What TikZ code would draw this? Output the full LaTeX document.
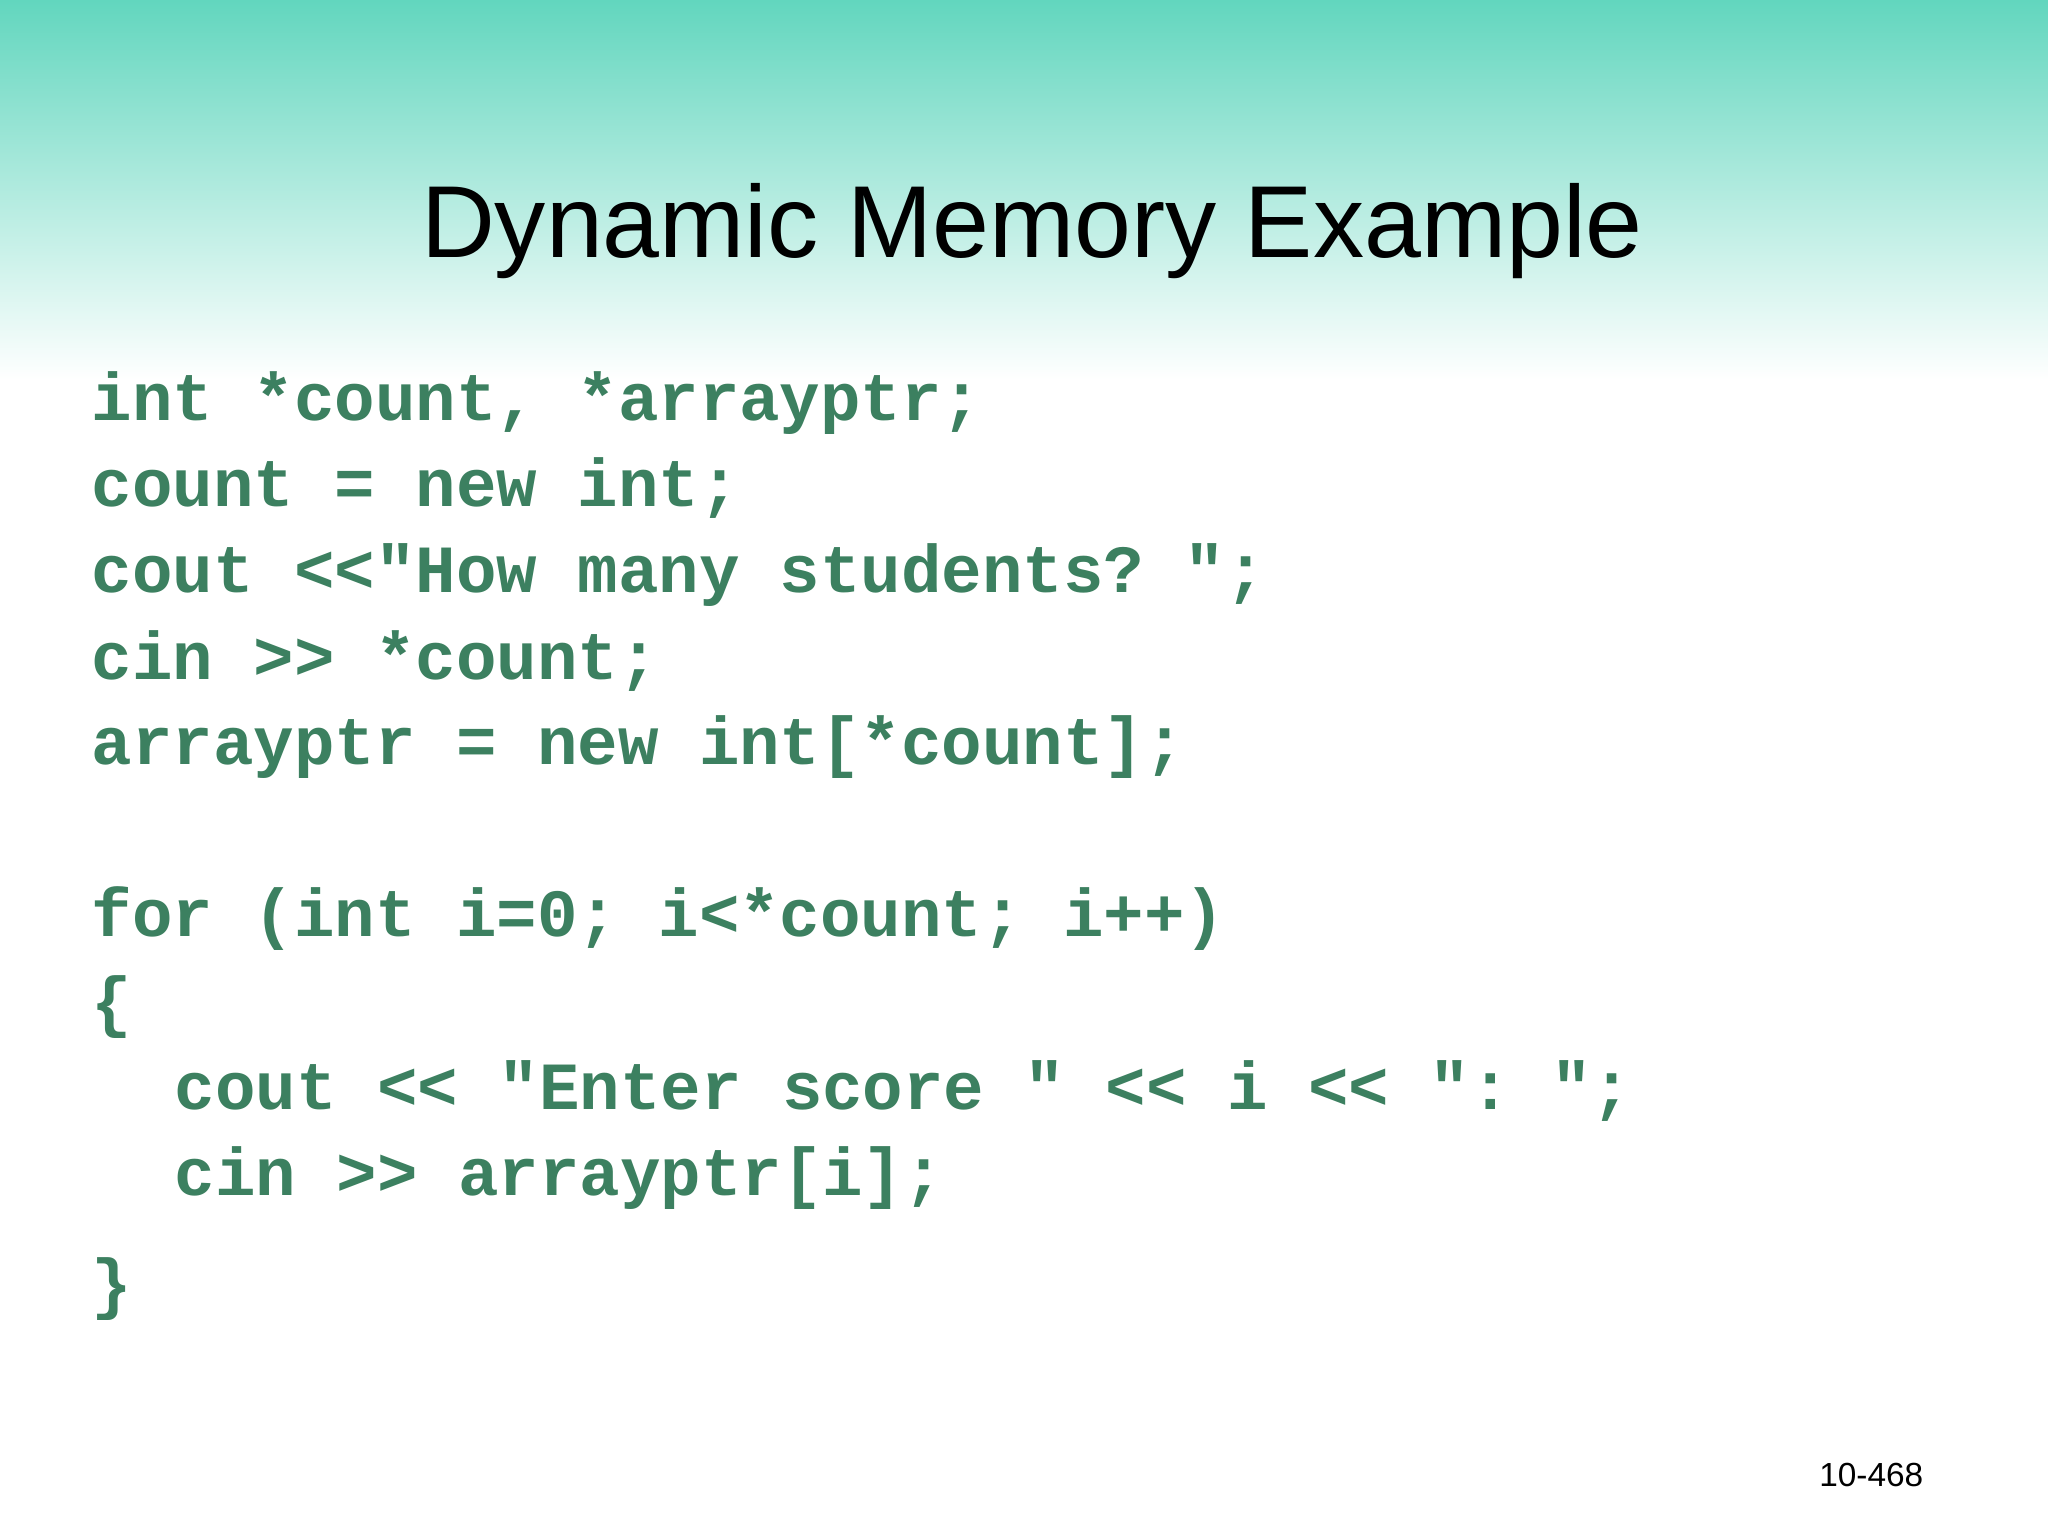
\documentclass[tikz,border=0pt]{standalone}
\usepackage{fontspec}
\setmainfont{Liberation Sans}
\setmonofont{Liberation Mono}
\definecolor{teal1}{RGB}{98,214,190}
\definecolor{codegreen}{RGB}{60,128,96}
\begin{document}
\begin{tikzpicture}[x=1cm,y=1cm,
  code/.style={anchor=base west,inner sep=0pt,text=codegreen,font=\ttfamily\bfseries\fontsize{19.2}{22}\selectfont},
  title/.style={anchor=base,inner sep=0pt,font=\fontsize{29.1}{34}\selectfont}]
\useasboundingbox (0,0) rectangle (20.48,-15.36);
\fill[white] (0,0) rectangle (20.48,-15.36);
\shade[top color=teal1,bottom color=white] (0,0) rectangle (20.48,-3.8);
\node[title] (t) at (10.32,-2.58) {Dynamic Memory Example};
\node[code] (l1) at (0.91,-4.206) {int *count, *arrayptr;};
\node[code] (l2) at (0.91,-5.068) {count = new int;};
\node[code] (l3) at (0.91,-5.93) {cout <<"How many students? ";};
\node[code] (l4) at (0.91,-6.79) {cin >> *count;};
\node[code] (l5) at (0.91,-7.65) {arrayptr = new int[*count];};
\node[code] (l6) at (0.91,-9.36) {for (int i=0; i<*count; i++)};
\node[code] (l7) at (0.91,-10.24) {\{};
\node[code] (l8) at (1.74,-11.09) {cout << "Enter score " << i << ": ";};
\node[code] (l9) at (1.74,-11.95) {cin >> arrayptr[i];};
\node[code] (l10) at (0.91,-13.06) {\}};
\node[anchor=base east,inner sep=0pt,font=\fontsize{9.5}{11}\selectfont] (pg) at (19.24,-14.86) {10-468};
\end{tikzpicture}
\end{document}
